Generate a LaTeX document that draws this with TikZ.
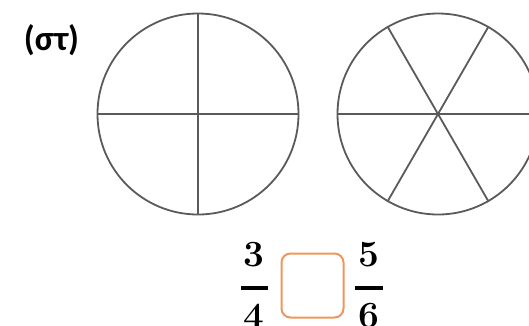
\documentclass[tikz,border=0pt]{standalone}
\usepackage{fontspec}
\newfontfamily\labelfont{Carlito}
\definecolor{boxorange}{HTML}{F0965A}
\definecolor{linegray}{HTML}{5A5A5A}
\begin{document}
\begin{tikzpicture}[x=1pt,y=-1pt,
  circ/.style={draw=linegray, line width=1.8pt},
  spoke/.style={draw=linegray, line width=1.8pt},
  numtext/.style={inner sep=0pt, font=\fontsize{37}{37}\selectfont\bfseries},
  answerbox/.style={draw=boxorange, line width=2pt, rounded corners=9pt, minimum width=62pt, minimum height=64pt}]
\useasboundingbox (0,0) rectangle (529,325);
\node[font=\labelfont\bfseries\fontsize{35}{35}\selectfont] (lbl) at (51.5,40) {(στ)};
% circle 1
\coordinate (c1) at (198,114);
\node[circ, circle, minimum size=201pt, inner sep=0pt] (C1) at (c1) {};
\draw[spoke] (C1.north) -- (C1.south);
\draw[spoke] (C1.west) -- (C1.east);
% circle 2
\coordinate (c2) at (438,114);
\node[circ, circle, minimum size=201pt, inner sep=0pt] (C2) at (c2) {};
\draw[spoke] (C2.west) -- (C2.east);
\draw[spoke] (C2.60) -- (C2.240);
\draw[spoke] (C2.120) -- (C2.300);
% fractions
\node[numtext] (n1) at (254,255) {3};
\node[numtext] (d1) at (254,316) {4};
\coordinate (b1l) at (241,288);
\coordinate (b1r) at (268,288);
\draw[line width=3.2pt] (b1l) -- (b1r);
\node[answerbox] (box) at (312.5,285.5) {};
\node[numtext] (n2) at (369,255) {5};
\node[numtext] (d2) at (369,316) {6};
\coordinate (b2l) at (355,288);
\coordinate (b2r) at (383,288);
\draw[line width=3.2pt] (b2l) -- (b2r);
\end{tikzpicture}
\end{document}
